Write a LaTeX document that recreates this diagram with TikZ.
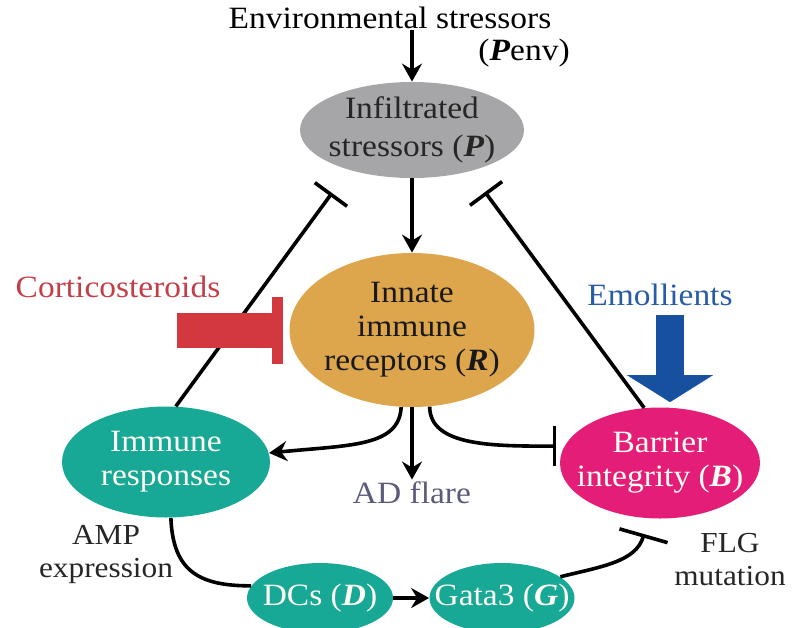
\documentclass[tikz,border=0pt]{standalone}
\usepackage{fontspec}
\setmainfont{Liberation Serif}[FakeStretch=1.08]
\usepackage{xcolor}
\usepackage{tikz}
\usetikzlibrary{arrows.meta,calc,positioning,shapes.geometric}
\definecolor{stgray}{RGB}{166,166,168}
\definecolor{rcporange}{RGB}{222,166,76}
\definecolor{immteal}{RGB}{24,168,150}
\definecolor{barpink}{RGB}{228,30,120}
\definecolor{cortred}{RGB}{210,56,62}
\definecolor{cortredtxt}{RGB}{196,62,72}
\definecolor{emolblue}{RGB}{24,80,160}
\definecolor{emolbluetxt}{RGB}{40,92,166}
\definecolor{flaregray}{RGB}{92,92,122}
\newcommand{\bitl}[1]{\textbf{\textit{#1}}}

\begin{document}
\begin{tikzpicture}[x=0.5pt,y=-0.5pt,font=\fontsize{15.5}{17}\selectfont,
  >={Stealth[length=9pt,width=10pt,inset=3pt]},
  blob/.style={ellipse,inner xsep=-10pt,inner ysep=0pt,align=center},
  arr/.style={->,line width=1.8pt},
  inh/.style={-{Bar[width=20pt,line width=1.8pt]},line width=1.8pt},
  lbl/.style={align=center,inner sep=1pt},
  side/.style={lbl,text=black!85,font=\fontsize{14.5}{16.5}\selectfont}]
  \useasboundingbox (0,0) rectangle (792,627);
  \node[lbl] (env) at (390,18) {Environmental stressors};
  \node[lbl] (penv) at (524,53) {(\bitl{P}env)};
  \node[blob,fill=stgray,text=black!85,minimum width=112pt,minimum height=48pt,font=\fontsize{15.5}{19}\selectfont] (P) at (412,130) {Infiltrated\\stressors (\bitl{P})};
  \node[blob,fill=rcporange,text=black!90,minimum width=122.5pt,minimum height=77pt] (R) at (412,330) {Innate\\immune\\receptors (\bitl{R})};
  \node[blob,fill=immteal,text=white!95!yellow,minimum width=104pt,minimum height=55.5pt] (imm) at (166,462) {Immune\\responses};
  \node[blob,fill=barpink,text=white!95!yellow,minimum width=100pt,minimum height=55.5pt] (bar) at (660,463) {Barrier\\integrity (\bitl{B})};
  \node[blob,fill=immteal,text=white!95!yellow,minimum width=73pt,minimum height=35pt] (dcs) at (320,598) {DCs (\bitl{D})};
  \node[blob,fill=immteal,text=white!95!yellow,minimum width=72.5pt,minimum height=35pt] (gata) at (502,598) {Gata3 (\bitl{G})};
  \node[lbl,text=flaregray] (flare) at (412,493) {AD flare};
  \node[side] (amp) at (106,555) {AMP\\expression};
  \node[side] (flg) at (730,560) {FLG\\mutation};
  \node[lbl,text=cortredtxt] (cort) at (118,287) {Corticosteroids};
  \node[lbl,text=emolbluetxt] (emol) at (660,295) {Emollients};
  \coordinate (envin) at (412,30);
  \coordinate (pinl) at (332,193);
  \coordinate (pinr) at (485,192);
  \coordinate (flgend) at (644,534);
  \coordinate (cortin) at (177,330);
  \coordinate (emolin) at (670,315);
  \draw[arr] (envin) -- (P);
  \draw[arr] (P) -- (R);
  \draw[inh] (imm.80) -- (pinl);
  \draw[inh] (bar.106) -- (pinr);
  \draw[arr] (R.262) .. controls +(-2,40) and +(80,-8) .. (imm.5);
  \draw[arr] (R) -- (flare);
  \draw[inh,shorten >=4pt] (R.283) .. controls +(0,40) and +(-70,0) .. (bar.170);
  \draw[line width=1.8pt] (imm.275) .. controls +(2,55) and +(-50,0) .. (dcs.170);
  \draw[arr] (dcs) -- (gata);
  \draw[-{Bar[width=25pt,line width=1.8pt]},line width=1.8pt] (gata.20) .. controls +(40,-10) and +(-8,28) .. (flgend);
  \draw[cortred,line width=17.5pt,-{Bar[width=33.5pt,line width=5.5pt]},shorten >=3pt] (cortin) -- (R.west);
  \draw[emolblue,line width=14pt,-{Triangle[width=43pt,length=13.5pt,line width=0.1pt]},shorten >=2.5pt] (emolin) -- (emolin |- bar.north);
\end{tikzpicture}
\end{document}
